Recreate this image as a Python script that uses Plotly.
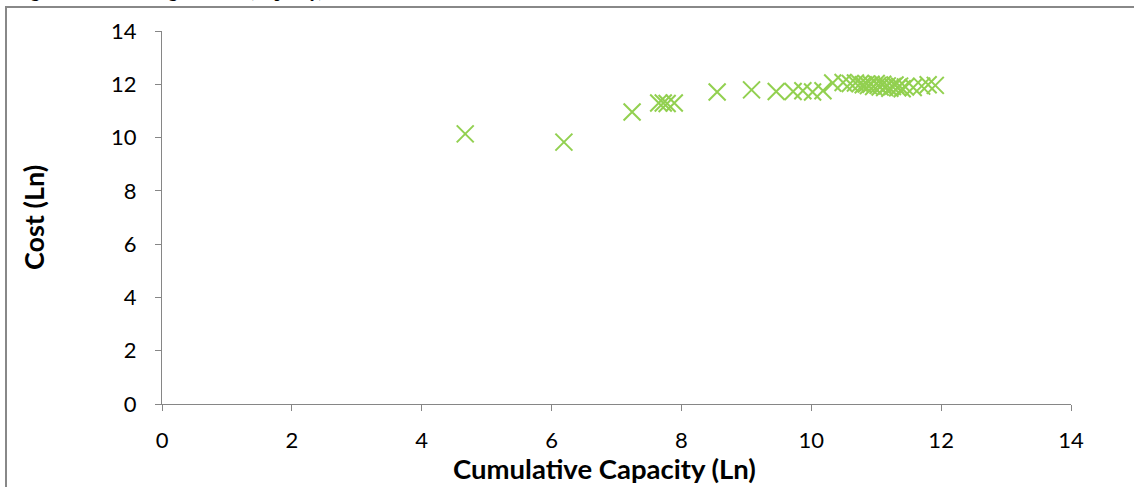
import plotly.graph_objects as go

# Data (natural-log values)
cum_capacity_ln = [
    4.67, 6.19, 7.24, 7.65, 7.72, 7.78, 7.89, 8.55, 9.08, 9.46,
    9.72, 9.87, 10.02, 10.18, 10.33, 10.49, 10.60, 10.68, 10.75,
    10.80, 10.85, 10.88, 10.92, 10.96, 11.00, 11.03, 11.06, 11.10,
    11.13, 11.17, 11.21, 11.25, 11.29, 11.33, 11.36, 11.40, 11.45,
    11.57, 11.70, 11.80, 11.91,
]
cost_ln = [
    10.14, 9.83, 10.96, 11.30, 11.30, 11.28, 11.30, 11.71, 11.79, 11.73,
    11.73, 11.76, 11.71, 11.76, 12.05, 12.07, 12.03, 12.05, 12.02,
    11.98, 12.01, 11.95, 12.00, 11.92, 12.03, 11.96, 11.90, 12.00,
    11.88, 11.94, 11.85, 11.92, 11.97, 11.87, 11.93, 11.83, 11.90,
    11.88, 11.93, 11.98, 11.96,
]
x_ticks = [0, 2, 4, 6, 8, 10, 12, 14]
y_ticks = [0, 2, 4, 6, 8, 10, 12, 14]

W, H = 1134, 487
L, R, T, B = 162, 63, 31, 83
pw, ph = W - L - R, H - T - B

def px_x(p):
    return (p - L) / pw

def px_y(p):
    return (H - B - p) / ph

FONT = "Lato, Open Sans, sans-serif"

fig = go.Figure()
fig.add_trace(go.Scatter(
    x=cum_capacity_ln, y=cost_ln, mode="markers",
    marker=dict(symbol="x-thin", size=17, color="#92D050",
                line=dict(width=2, color="#92D050")),
    showlegend=False, cliponaxis=False,
))

axis_common = dict(
    showgrid=False, zeroline=False, showline=True, linecolor="#868686",
    linewidth=1, ticks="outside", ticklen=6, tickcolor="#868686",
    tickfont=dict(family=FONT, size=22, color="#000000"),
)
fig.update_xaxes(range=[0, 14], tickvals=x_ticks, **axis_common,
                 ticklabelstandoff=11)
fig.update_yaxes(range=[0, 14], tickvals=y_ticks, **axis_common,
                 ticklabelstandoff=14,
                 title=dict(text="<b>Cost (Ln)</b>",
                            font=dict(family=FONT, size=27, color="#000000"),
                            standoff=58))

# x-axis title (placed as annotation to match the reference's position)
fig.add_annotation(text="<b>Cumulative Capacity (Ln)</b>",
                   xref="paper", yref="paper", x=px_x(604), y=px_y(468),
                   xanchor="center", yanchor="middle", showarrow=False,
                   font=dict(family=FONT, size=27.5, color="#000000"))

# outer chart-area border (extends off the right and bottom edges)
fig.add_shape(type="rect", xref="paper", yref="paper",
              x0=px_x(6), x1=px_x(W + 10), y0=px_y(H + 10), y1=px_y(7),
              line=dict(color="#888888", width=2), fillcolor="rgba(0,0,0,0)",
              layer="below")

# caption cut off at the top of the picture
fig.add_annotation(text="<b>Figure 4.1: GHG Original Data (Capacity)</b>",
                   xref="paper", yref="paper", x=px_x(14), y=px_y(3),
                   xanchor="left", yanchor="bottom", showarrow=False,
                   font=dict(family="Liberation Serif, serif", size=17, color="#000000"))

fig.update_layout(
    width=W, height=H, autosize=False,
    margin=dict(l=L, r=R, t=T, b=B),
    paper_bgcolor="white", plot_bgcolor="white",
)

fig.write_html("out.html", config={"displayModeBar": False},
               post_script="document.body.style.margin='0';document.body.style.overflow='hidden';")
